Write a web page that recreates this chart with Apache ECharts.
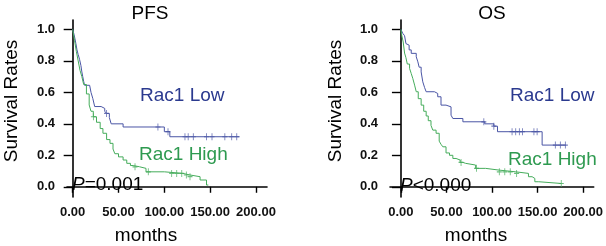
<!DOCTYPE html>
<html>
<head>
<meta charset="utf-8">
<script src="https://cdn.jsdelivr.net/npm/echarts@6/dist/echarts.min.js"></script>
<style>
  html, body { margin: 0; padding: 0; background: #fff; }
  #chart { width: 606px; height: 246px; }
</style>
</head>
<body>
<div id="chart"></div>
<script>
// Kaplan-Meier step data: [months, survival]
const pfsLow = [[0,1],[1.4,0.97],[2.5,0.94],[3.5,0.91],[4.7,0.87],[6,0.84],[7.5,0.81],[9,0.77],[10,0.73],[11,0.70],[12,0.67],[13,0.645],[18.5,0.635],[20,0.60],[22,0.56],[24,0.51],[31,0.498],[35,0.48],[37,0.466],[40,0.44],[42,0.40],[55,0.38],[100,0.35],[106,0.318],[182,0.318]];
const pfsHigh = [[0,1],[2,0.93],[4,0.86],[6,0.80],[8,0.74],[10,0.70],[12,0.65],[15,0.59],[18,0.52],[20,0.48],[22.5,0.445],[26,0.41],[30,0.37],[33,0.34],[37,0.30],[40.7,0.276],[44,0.24],[46,0.21],[50,0.19],[55,0.17],[59,0.149],[63,0.135],[66,0.127],[73,0.117],[80,0.095],[100,0.085],[120,0.075],[128,0.064],[139,0.043],[146,0.011],[148,0.011]];
const pfsLowCensor = [37, 93, 104, 122.5, 126, 131.6, 146, 152, 166, 173.5, 179];
const pfsHighCensor = [22.6, 68, 82.5, 108, 113.5, 119, 124, 128];

const osLow = [[0,1],[2,0.975],[4,0.96],[5.5,0.91],[7.6,0.90],[9,0.87],[11.3,0.848],[16.8,0.826],[18.6,0.794],[20,0.76],[22.2,0.73],[24,0.667],[26,0.63],[27.7,0.604],[36.8,0.593],[40.4,0.572],[44,0.519],[49.5,0.508],[55,0.455],[57,0.434],[68,0.413],[92,0.40],[102,0.385],[106,0.35],[155,0.265],[181,0.265]];
const osHigh = [[0,1],[1,0.96],[2.5,0.92],[4,0.85],[5.5,0.82],[7,0.78],[9.5,0.752],[11.3,0.72],[13,0.689],[15,0.646],[16.8,0.604],[19,0.56],[22.2,0.519],[25,0.48],[27.7,0.45],[30,0.42],[33,0.39],[35,0.36],[38.6,0.34],[42,0.29],[44,0.27],[46,0.254],[49.5,0.215],[53.3,0.20],[57,0.18],[60.5,0.17],[65,0.155],[68,0.149],[71,0.138],[82,0.117],[93,0.106],[107.7,0.095],[126,0.085],[140,0.064],[144,0.053],[147,0.032],[151.3,0.021],[176,0.021]];
const osLowCensor = [91, 102, 122, 126, 130, 133.5, 146, 149.5, 169.5, 175, 180.5];
const osHighCensor = [66, 83, 108, 114, 120, 127, 176];

const xTicks = [0, 50, 100, 150, 200];
const yTicks = [0, 0.2, 0.4, 0.6, 0.8, 1.0];

const BLUE_LINE = '#4a55a5';
const GREEN_LINE = '#45ac5b';
const BLUE_TEXT = '#2b3a8f';
const GREEN_TEXT = '#2e9a50';
const FONT = 'Liberation Sans, Arial, sans-serif';

// survival value of a step curve at time t
function survAt(curve, t) {
    let s = curve[0][1];
    curve.forEach(p => { if (p[0] <= t) s = p[1]; });
    return s;
}

function censorPoints(curve, times) {
    return times.map(t => [t, survAt(curve, t)]);
}

function xAxisOpt(idx, min, max) {
    return {
        type: 'value', gridIndex: idx, min: min, max: max,
        splitLine: { show: false },
        axisLine: { lineStyle: { color: '#000', width: 1.6 } },
        axisTick: { customValues: xTicks, length: 6, lineStyle: { color: '#000', width: 1.4 } },
        axisLabel: {
            customValues: xTicks, margin: 9,
            formatter: v => v.toFixed(2),
            color: '#111', fontSize: 13, fontWeight: 'bold', fontFamily: FONT
        }
    };
}

function yAxisOpt(idx) {
    return {
        type: 'value', gridIndex: idx, min: -0.065, max: 1.06,
        splitLine: { show: false },
        axisLine: { show: true, lineStyle: { color: '#000', width: 1.6 } },
        axisTick: { show: true, customValues: yTicks, length: 9, lineStyle: { color: '#000', width: 1.4 } },
        axisLabel: {
            customValues: yTicks, margin: 12,
            formatter: v => v.toFixed(1),
            color: '#111', fontSize: 13, fontWeight: 'bold', fontFamily: FONT
        }
    };
}

function kmLine(idx, data, color) {
    return {
        type: 'line', xAxisIndex: idx, yAxisIndex: idx, step: 'end',
        data: data, showSymbol: false, silent: true,
        lineStyle: { color: color, width: 1 }
    };
}

function censorMarks(idx, data, color) {
    return {
        type: 'scatter', xAxisIndex: idx, yAxisIndex: idx, data: data,
        symbol: 'path://M5,0L5,10M0,5L10,5', symbolSize: [5, 7],
        itemStyle: { color: 'transparent', borderColor: color, borderWidth: 1 },
        silent: true
    };
}

function txt(x, y, text, size, color, align, extra) {
    return Object.assign({
        type: 'text', x: x, y: y,
        style: {
            text: text, fontSize: size, fontFamily: FONT, fill: color,
            textAlign: align, textVerticalAlign: 'middle',
            rich: { i: { fontStyle: 'italic', fontSize: size, fontFamily: FONT, fill: color } }
        }
    }, extra || {});
}

const myChart = echarts.init(document.getElementById('chart'));
const option = {
    animation: false,
    grid: [
        { left: 67, top: 20, width: 200, height: 177 },
        { left: 390, top: 20, width: 205, height: 177 }
    ],
    xAxis: [xAxisOpt(0, -6.2, 212), xAxisOpt(1, -12, 211.6)],
    yAxis: [yAxisOpt(0), yAxisOpt(1)],
    series: [
        kmLine(0, pfsLow, BLUE_LINE),
        kmLine(0, pfsHigh, GREEN_LINE),
        censorMarks(0, censorPoints(pfsLow, pfsLowCensor), BLUE_LINE),
        censorMarks(0, censorPoints(pfsHigh, pfsHighCensor), GREEN_LINE),
        kmLine(1, osLow, BLUE_LINE),
        kmLine(1, osHigh, GREEN_LINE),
        censorMarks(1, censorPoints(osLow, osLowCensor), BLUE_LINE),
        censorMarks(1, censorPoints(osHigh, osHighCensor), GREEN_LINE)
    ],
    graphic: [
        txt(150, 14, 'PFS', 19, '#000', 'center'),
        txt(492, 14, 'OS', 19, '#000', 'center'),
        txt(12, 101, 'Survival Rates', 19, '#000', 'center', { rotation: Math.PI / 2 }),
        txt(336, 101, 'Survival Rates', 19, '#000', 'center', { rotation: Math.PI / 2 }),
        txt(146, 236, 'months', 19, '#000', 'center'),
        txt(476, 236, 'months', 19, '#000', 'center'),
        txt(140, 95.5, 'Rac1 Low', 19, BLUE_TEXT, 'left'),
        txt(139, 155, 'Rac1 High', 19, GREEN_TEXT, 'left'),
        txt(510, 95.5, 'Rac1 Low', 19, BLUE_TEXT, 'left'),
        txt(508, 160, 'Rac1 High', 19, GREEN_TEXT, 'left'),
        txt(72, 185, '{i|P}=0.001', 19, '#000', 'left'),
        txt(400, 186, '{i|P}<0.000', 19, '#000', 'left')
    ]
};
myChart.setOption(option);
</script>
</body>
</html>
